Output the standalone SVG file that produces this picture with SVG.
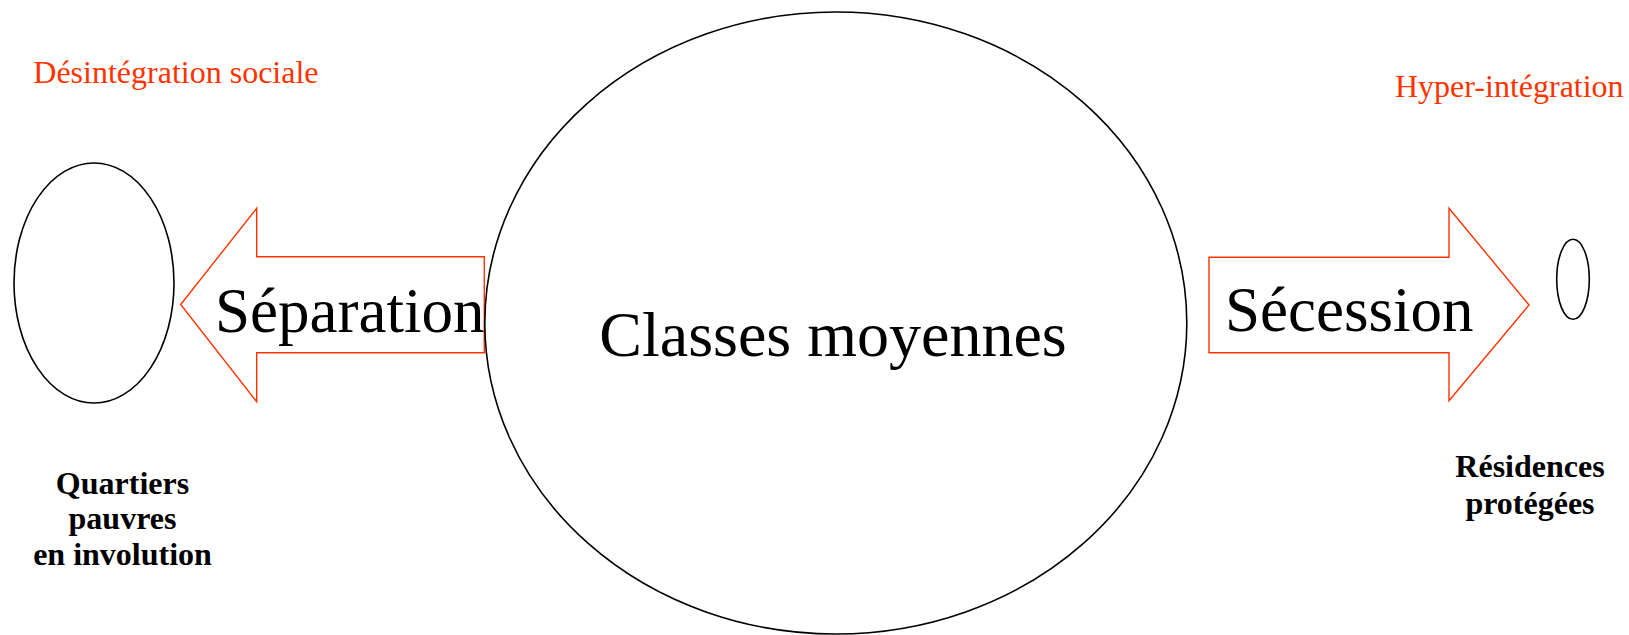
<svg xmlns="http://www.w3.org/2000/svg" width="1629" height="635" viewBox="0 0 1629 635">
<style>
.bg{fill:#ffffff}
.node{fill:none;stroke:#000000;stroke-width:1.6}
.arrow{fill:#ffffff;stroke:#ff3300;stroke-width:1.4;stroke-linejoin:miter}
.big{font-family:"Liberation Serif","Times New Roman",serif;font-size:63px;fill:#000000}
.red{font-family:"Liberation Serif","Times New Roman",serif;font-size:32px;fill:#ff3300}
.bold{font-family:"Liberation Serif","Times New Roman",serif;font-size:32px;font-weight:bold;fill:#000000;text-anchor:middle}
</style>
<rect class="bg" x="0" y="0" width="1629" height="635"/>
<g id="connectors">
  <g id="arrow-separation">
    <polygon class="arrow" points="180.7,304.5 256.7,208.3 256.7,256.7 484.3,256.7 484.3,352.7 256.7,352.7 256.7,401.7"/>
    <text class="big" x="215" y="331.7">Séparation</text>
  </g>
  <g id="arrow-secession">
    <polygon class="arrow" points="1529,305 1449,208.3 1449,257.3 1209,257.3 1209,352.7 1449,352.7 1449,400.7"/>
    <text class="big" x="1225" y="330.7">Sécession</text>
  </g>
</g>
<g id="node-classes">
  <ellipse class="node" cx="835.8" cy="323" rx="351" ry="311"/>
  <text class="big" x="833" y="356" text-anchor="middle" style="font-size:64px">Classes moyennes</text>
</g>
<g id="node-quartiers">
  <ellipse class="node" cx="94" cy="283" rx="80" ry="120"/>
  <text class="red" x="33.3" y="83.3">Désintégration sociale</text>
  <text class="bold" x="122.5" y="494">Quartiers</text>
  <text class="bold" x="122.5" y="529">pauvres</text>
  <text class="bold" x="122.5" y="565">en involution</text>
</g>
<g id="node-residences">
  <ellipse class="node" cx="1573" cy="279.3" rx="16.3" ry="40"/>
  <text class="red" x="1395" y="96.7">Hyper-intégration</text>
  <text class="bold" x="1530" y="477">Résidences</text>
  <text class="bold" x="1530" y="514">protégées</text>
</g>
</svg>
